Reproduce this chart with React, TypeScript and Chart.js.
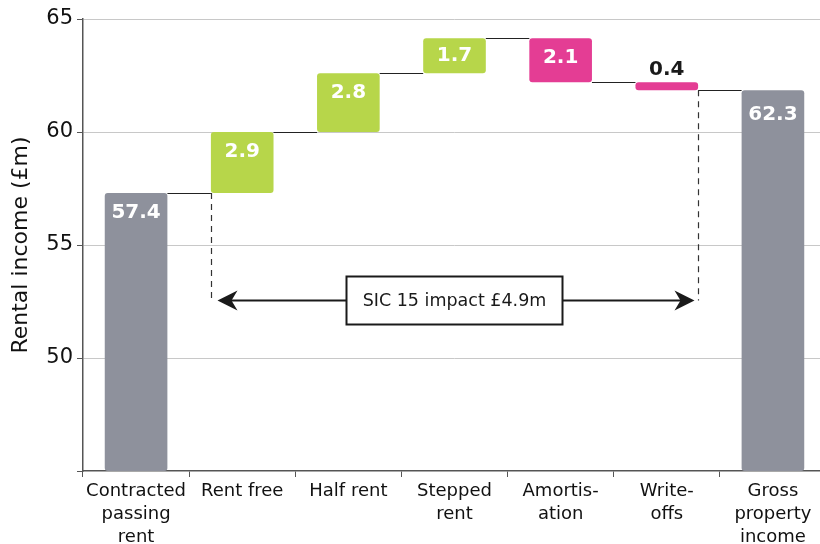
import React, { useEffect, useRef } from "react";
import { Chart, registerables } from "chart.js";

Chart.register(...registerables);

const categories: string[][] = [
  ["Contracted", "passing", "rent"],
  ["Rent free"],
  ["Half rent"],
  ["Stepped", "rent"],
  ["Amortis-", "ation"],
  ["Write-", "offs"],
  ["Gross", "property", "income"],
];
const lowValues = [45, 57.3, 60.0, 62.6, 62.2, 61.85, 45];
const highValues = [57.3, 60.0, 62.6, 64.15, 64.15, 62.2, 61.85];
const valueLabels = ["57.4", "2.9", "2.8", "1.7", "2.1", "0.4", "62.3"];
const barKinds = ["total", "increase", "increase", "increase", "decrease", "decrease", "total"];
const yTicks = [45, 50, 55, 60, 65];
const impactLabel = "SIC 15 impact £4.9m";
const arrowLevel = 52.55;

const FONT = "'DejaVu Sans', sans-serif";
const kindColor: Record<string, string> = {
  total: "rgb(142,145,156)",
  increase: "rgb(183,214,74)",
  decrease: "rgb(228,61,148)",
};

const overlayPlugin = {
  id: "waterfallOverlay",
  afterDatasetsDraw(chart: any) {
    const ctx = chart.ctx as CanvasRenderingContext2D;
    const meta = chart.getDatasetMeta(0);
    const ys = chart.scales.y;
    const els = meta.data;
    ctx.save();
    // connectors
    ctx.strokeStyle = "#222";
    ctx.lineWidth = 1;
    for (let i = 0; i < els.length - 1; i++) {
      const a = els[i];
      const b = els[i + 1];
      const lvl = barKinds[i] === "decrease" ? lowValues[i] : highValues[i];
      const py = Math.round(ys.getPixelForValue(lvl)) + 0.5;
      ctx.beginPath();
      ctx.moveTo(a.x + a.width / 2, py);
      ctx.lineTo(b.x - b.width / 2, py);
      ctx.stroke();
    }
    // dashed verticals
    const ay = Math.round(ys.getPixelForValue(arrowLevel)) + 0.5;
    const leftX = Math.round(els[1].x - els[1].width / 2) + 0.5;
    const rightX = Math.round(els[5].x + els[5].width / 2) + 0.5;
    ctx.setLineDash([6, 5]);
    ctx.lineWidth = 1.2;
    ctx.strokeStyle = "#333";
    ctx.beginPath();
    ctx.moveTo(leftX, ys.getPixelForValue(lowValues[1]));
    ctx.lineTo(leftX, ay);
    ctx.moveTo(rightX, ys.getPixelForValue(lowValues[5]));
    ctx.lineTo(rightX, ay);
    ctx.stroke();
    ctx.setLineDash([]);
    // arrow
    const tipL = leftX + 6;
    const tipR = rightX - 4;
    ctx.strokeStyle = "#1a1a1a";
    ctx.fillStyle = "#1a1a1a";
    ctx.lineWidth = 2;
    ctx.beginPath();
    ctx.moveTo(tipL + 8, ay);
    ctx.lineTo(tipR - 8, ay);
    ctx.stroke();
    const head = (tip: number, dir: number) => {
      ctx.beginPath();
      ctx.moveTo(tip, ay);
      ctx.lineTo(tip + dir * 20, ay - 10);
      ctx.lineTo(tip + dir * 14, ay);
      ctx.lineTo(tip + dir * 20, ay + 10);
      ctx.closePath();
      ctx.fill();
    };
    head(tipL, 1);
    head(tipR, -1);
    // box
    const cx = els[3].x;
    const bw = 216;
    const bh = 48;
    ctx.fillStyle = "#fff";
    ctx.fillRect(cx - bw / 2, ay - bh / 2, bw, bh);
    ctx.lineWidth = 2;
    ctx.strokeStyle = "#1a1a1a";
    ctx.strokeRect(cx - bw / 2, ay - bh / 2, bw, bh);
    ctx.fillStyle = "#1a1a1a";
    ctx.font = `17.5px ${FONT}`;
    ctx.textAlign = "center";
    ctx.textBaseline = "middle";
    ctx.fillText(impactLabel, cx, ay + 1);
    // value labels
    ctx.font = `bold 20px ${FONT}`;
    els.forEach((el: any, i: number) => {
      const top = Math.min(el.y, el.base);
      const h = Math.abs(el.base - el.y);
      if (h < 20) {
        ctx.fillStyle = "#1a1a1a";
        ctx.fillText(valueLabels[i], el.x, top - 12);
      } else {
        ctx.fillStyle = "#fff";
        const off = barKinds[i] === "total" && i > 0 ? 25 : Math.min(20, h / 2);
        ctx.fillText(valueLabels[i], el.x, top + off);
      }
    });
    ctx.restore();
  },
};

export default function App() {
  const ref = useRef<HTMLCanvasElement | null>(null);
  useEffect(() => {
    if (!ref.current) return;
    const chart = new Chart(ref.current, {
      type: "bar",
      data: {
        labels: categories,
        datasets: [
          {
            data: lowValues.map((lo, i) => [lo, highValues[i]]) as any,
            backgroundColor: barKinds.map((k) => kindColor[k]),
            borderRadius: 3,
            borderSkipped: false,
            categoryPercentage: 1,
            barPercentage: 0.59,
          },
        ],
      },
      options: {
        responsive: false,
        animation: false,
        layout: { padding: { top: 19, right: 0, left: 0, bottom: 0 } },
        plugins: { legend: { display: false }, tooltip: { enabled: false } },
        scales: {
          x: {
            grid: {
              drawOnChartArea: false,
              tickLength: 6,
              tickColor: "#555",
              offset: true,
            },
            border: { color: "#555", width: 1.5 },
            ticks: {
              color: "#111",
              font: { family: FONT, size: 18, lineHeight: 1.28 },
              maxRotation: 0,
              autoSkip: false,
              padding: 3,
            },
            afterFit: (s: any) => {
              s.height = 73;
            },
          },
          y: {
            min: 45,
            max: 65,
            afterBuildTicks: (s: any) => {
              s.ticks = yTicks.map((v) => ({ value: v }));
            },
            grid: {
              color: (c: any) => (c.tick && c.tick.value === 45 ? "rgba(0,0,0,0)" : "#c8c8c8"),
              tickColor: "#555",
              tickLength: 6,
            },
            border: { color: "#555", width: 1.5 },
            ticks: {
              color: "#111",
              font: { family: FONT, size: 21 },
              padding: 4,
              callback: (v: any) => (v === 45 ? "" : String(v)),
            },
            title: {
              display: true,
              text: "Rental income (£m)",
              color: "#111",
              font: { family: FONT, size: 22 },
              padding: { top: 8, bottom: 0 },
            },
            afterFit: (s: any) => {
              s.width = 83;
            },
          },
        },
      },
      plugins: [overlayPlugin],
    });
    return () => chart.destroy();
  }, []);
  return (
    <div style={{ position: "fixed", left: 0, top: 0, width: 820, height: 544, overflow: "hidden", background: "#fff" }}>
      <canvas ref={ref} width={826} height={544} style={{ display: "block" }} />
    </div>
  );
}
